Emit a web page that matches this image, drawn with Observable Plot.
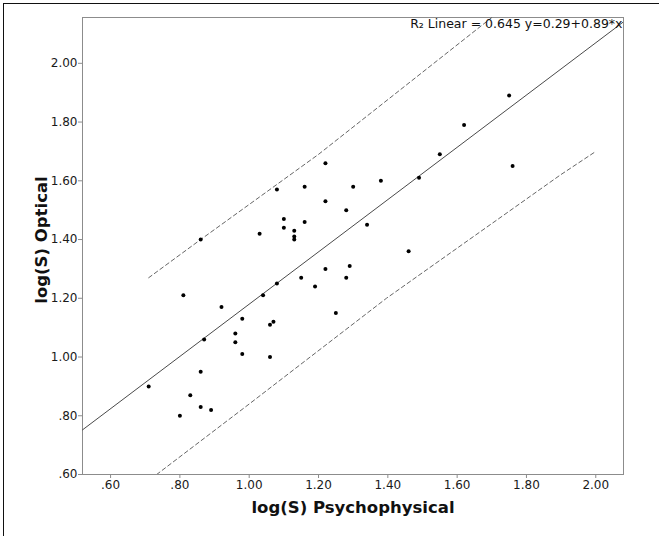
<!DOCTYPE html>
<html>
<head>
<meta charset="utf-8">
<script src="https://cdn.jsdelivr.net/npm/d3@7"></script>
<script src="https://cdn.jsdelivr.net/npm/@observablehq/plot@0.6"></script>
<style>
  html, body { margin: 0; padding: 0; background: #fff; overflow: hidden; }
  #wrap { position: relative; width: 659px; height: 536px; overflow: hidden; }
  #border { position: absolute; left: 3px; top: 3px; width: 1000px; height: 1000px;
            border-left: 1.5px solid #111; border-top: 1.5px solid #111; pointer-events: none; }
</style>
</head>
<body>
<div id="wrap"><div id="chart"></div><div id="border"></div></div>
<script>
// Data
const psychophysical = [0.86,1.08,1.03,1.16,1.22,1.30,1.38,1.49,1.55,1.62,1.75,1.76,
  1.10,1.10,1.13,1.13,1.13,1.16,1.22,1.28,1.34,1.46,1.22,1.29,1.15,1.28,1.08,1.19,
  1.04,0.81,0.92,1.25,0.98,0.96,0.96,1.06,1.07,0.87,0.98,1.06,0.86,0.71,0.83,0.86,0.89,0.80];
const optical = [1.40,1.57,1.42,1.58,1.66,1.58,1.60,1.61,1.69,1.79,1.89,1.65,
  1.47,1.44,1.43,1.41,1.40,1.46,1.53,1.50,1.45,1.36,1.30,1.31,1.27,1.27,1.25,1.24,
  1.21,1.21,1.17,1.15,1.13,1.08,1.05,1.11,1.12,1.06,1.01,1.00,0.95,0.90,0.87,0.83,0.82,0.80];

const xTicks = [0.6, 0.8, 1.0, 1.2, 1.4, 1.6, 1.8, 2.0];
const yTicks = [0.6, 0.8, 1.0, 1.2, 1.4, 1.6, 1.8, 2.0];

const fitIntercept = 0.29;
const fitSlope = 0.89;
const rSquared = 0.645;

// Individual prediction interval (dashed)
const upperBandX = [0.71, 0.86, 1.20, 1.70];
const upperBandY = [1.27, 1.40, 1.69, 2.156];
const lowerBandX = [0.733, 1.00, 1.396, 1.898, 2.00];
const lowerBandY = [0.60, 0.84, 1.20, 1.62, 1.70];

const xDomain = [0.519, 2.08];
const yDomain = [0.60, 2.156];

const points = psychophysical.map((x, i) => ({x, y: optical[i]}));
const fitLine = xDomain.map(x => ({x, y: fitIntercept + fitSlope * x}));
const upper = upperBandX.map((x, i) => ({x, y: upperBandY[i]}));
const lower = lowerBandX.map((x, i) => ({x, y: lowerBandY[i]}));

const fmt = d => d3.format(".2f")(d).replace(/^0\./, ".");
const annotation = `R₂ Linear = ${rSquared} y=${fitIntercept}+${fitSlope}*x`;

const chart = Plot.plot({
  width: 659,
  height: 536,
  marginLeft: 82,
  marginRight: 36,
  marginTop: 17,
  marginBottom: 62,
  style: {fontFamily: "DejaVu Sans", fontSize: "12px", background: "transparent", overflow: "visible"},
  x: {domain: xDomain, axis: null},
  y: {domain: yDomain, axis: null},
  marks: [
    Plot.frame({stroke: "#8c8c8c", strokeWidth: 1}),
    Plot.axisX(xTicks, {tickSize: 4, tickPadding: 2, tickFormat: fmt, stroke: "#8c8c8c", fill: "#1a1a1a", fontSize: 12, label: null}),
    Plot.axisY(yTicks, {tickSize: 4, tickPadding: 1, tickFormat: fmt, stroke: "#8c8c8c", fill: "#1a1a1a", fontSize: 12, label: null}),
    Plot.line(fitLine, {x: "x", y: "y", stroke: "#4a4a4a", strokeWidth: 1, clip: true}),
    Plot.line(upper, {x: "x", y: "y", stroke: "#666", strokeWidth: 1, strokeDasharray: "4,3", clip: true}),
    Plot.line(lower, {x: "x", y: "y", stroke: "#666", strokeWidth: 1, strokeDasharray: "4,3", clip: true}),
    Plot.dot(points, {x: "x", y: "y", r: 2, fill: "#000", stroke: null}),
    Plot.text([annotation], {frameAnchor: "top-right", textAnchor: "end", lineAnchor: "top", dx: -1, dy: 2, fill: "#111", fontSize: 12.5}),
    Plot.text(["log(S) Psychophysical"], {frameAnchor: "bottom", lineAnchor: "middle", dy: 33, fontSize: 16.5, fontWeight: "bold", fill: "#111"}),
    Plot.text(["log(S) Optical"], {frameAnchor: "left", rotate: -90, lineAnchor: "middle", textAnchor: "middle", dx: -41, dy: -6, fontSize: 16.5, fontWeight: "bold", fill: "#111"})
  ]
});
document.getElementById("chart").appendChild(chart);
</script>
</body>
</html>
